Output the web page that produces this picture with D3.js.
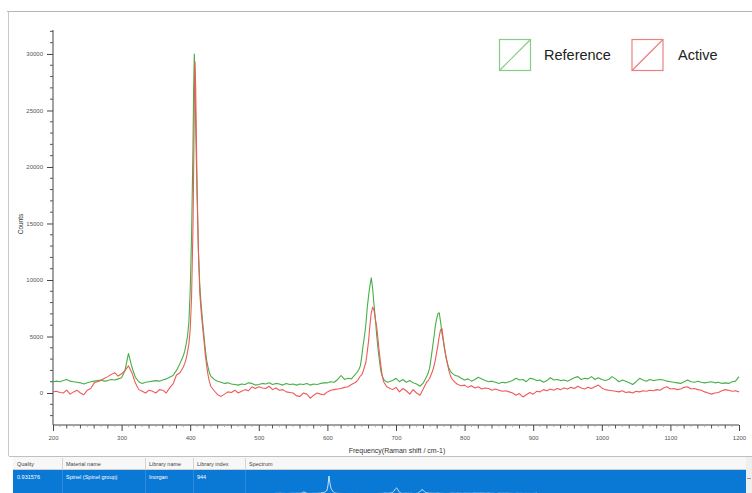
<!DOCTYPE html>
<html><head><meta charset="utf-8">
<script src="https://cdn.jsdelivr.net/npm/d3@7"></script>
<style>
html,body{margin:0;padding:0;background:#fff;}
svg{display:block;font-family:"Liberation Sans",Arial,sans-serif;}
</style></head>
<body><svg id="c" width="752" height="493"></svg>
<script>
// Raman shift (cm-1)
const shift = [
200,205,210,215,220,225,230,235,240,245,250,255,260,265,270,275,280,285,290,295,300,305,310,315,320,325,330,335,340,345,350,355,360,365,370,375,380,385,390,
392,394,396,398,400,402,404,405,406,407,408,410,412,414,416,418,420,422,424,426,428,430,
435,440,445,450,455,460,465,470,475,480,485,490,495,500,505,510,515,520,525,530,535,540,545,550,555,560,565,570,575,580,585,590,595,600,605,610,615,620,625,630,635,640,
642,644,646,648,650,652,654,656,658,660,662,664,666,668,670,672,674,676,678,680,682,684,686,688,690,
695,700,705,710,715,720,725,730,735,740,745,
747,749,751,753,755,757,759,761,763,765,767,769,771,773,775,777,779,781,783,785,787,789,
790,795,800,805,810,815,820,825,830,835,840,845,850,855,860,865,870,875,880,885,890,895,900,905,910,915,920,925,930,935,940,945,950,955,960,965,970,975,980,985,990,995,
1000,1005,1010,1015,1020,1025,1030,1035,1040,1045,1050,1055,1060,1065,1070,1075,1080,1085,1090,1095,1100,1105,1110,1115,1120,1125,1130,1135,1140,1145,1150,1155,1160,1165,1170,1175,1180,1185,1190,1195,1200
];
const referenceCounts = [
1000,1050,1000,1100,1200,1050,1000,950,900,800,900,1000,1050,1100,1150,1050,1100,1200,1150,1250,1350,2000,3500,2300,1400,1000,850,950,1000,1050,1100,1050,1150,1250,1400,1550,2000,2600,3300,
3700,4300,5000,6200,9000,14000,21500,27000,30000,27500,23500,17500,12500,9500,7800,6400,5100,3900,2900,2300,1800,1500,
1200,1050,950,850,900,800,750,700,800,750,900,850,700,750,850,800,900,750,850,800,700,850,750,800,700,800,750,850,700,800,750,850,900,900,1000,950,1200,1550,1200,1300,1250,1600,
1750,1900,2100,2400,3200,4200,5000,6000,7500,8600,9500,10200,9200,7800,6500,5000,3800,2800,1900,1500,1200,1100,1000,950,1000,
1100,1300,1000,1200,950,1100,900,800,600,900,1500,
1800,2200,3000,3900,4800,5800,6500,7000,7100,6300,5300,4600,3800,3100,2600,2200,2000,1800,1700,1600,1550,1500,
1500,1300,1150,1250,1050,1200,1400,1250,1100,1000,1050,950,850,950,900,1000,1100,1300,1150,1200,1000,1300,1250,1100,1150,950,1100,1350,1150,1200,1100,1150,1050,1200,1350,1450,1200,1300,1250,1450,1200,1350,
1200,1100,1200,1450,1250,1000,1150,1050,900,750,1000,1300,1150,1050,1200,1100,1150,1200,1150,1050,1000,950,900,850,1000,1150,1000,950,1050,950,900,950,1000,900,950,850,900,850,1000,1050,1450
];
const activeCounts = [
100,150,50,0,250,-100,100,250,0,-150,250,400,900,1000,1100,1300,1450,1650,1800,1500,1700,2000,2400,1800,900,300,150,0,250,150,0,300,250,0,450,800,1600,1800,2300,
2600,3000,3600,4300,5600,8500,14500,19500,25500,29300,27000,18500,12500,8800,7200,5900,4700,3400,2400,1600,1000,600,
200,-150,-300,-100,100,50,250,0,150,300,200,550,400,550,450,400,600,300,450,250,300,100,50,0,-250,-300,0,-100,-450,-200,0,-100,-150,100,250,300,350,400,500,550,750,900,
1000,1100,1300,1500,1600,1900,2300,2700,3600,4600,6000,7100,7600,7300,6500,5800,4600,3400,2400,1500,1000,800,600,500,450,
300,500,100,400,200,-100,300,0,-200,400,1000,
1100,1300,1600,1900,2300,2800,3500,4200,5000,5600,5700,4700,3900,3200,2600,2000,1600,1300,1150,1000,900,800,
750,650,700,500,650,450,550,350,450,400,250,350,250,150,200,100,0,-200,-50,-350,-150,50,-100,150,100,300,200,350,250,400,300,450,350,500,400,600,450,350,500,400,550,700,
450,300,250,200,150,100,200,50,100,0,150,100,200,150,250,200,300,250,450,550,350,400,300,350,500,550,350,400,300,250,100,0,-100,0,50,200,300,250,150,200,100
];
const xMajorTicks = [200,300,400,500,600,700,800,900,1000,1100,1200];
const yMajorTicks = [0,5000,10000,15000,20000,25000,30000];
const seriesNames = ["Reference","Active"];
const seriesColors = ["#45b045","#ee5a5a"];
const legendColors = ["#86cc86","#ee8080"];
const tableHeaders = ["Quality","Material name","Library name","Library index","Spectrum"];
const tableRow = ["0.931576","Spinel (Spinel group)","Inorgan","944"];

const svg = d3.select("#c");
const x = d3.scaleLinear().domain([200,1200]).range([53,739]);
const y = d3.scaleLinear().domain([-2830,32120]).range([425,30]);

// outer frame
svg.append("line").attr("x1",7).attr("x2",752).attr("y1",11.5).attr("y2",11.5).attr("stroke","#b4b4b4");
svg.append("line").attr("x1",8.5).attr("x2",8.5).attr("y1",11.5).attr("y2",456).attr("stroke","#c8c8c8");

// Y axis
const yAxis = d3.axisLeft(y).tickValues(yMajorTicks).tickSize(6).tickPadding(4).tickFormat(d3.format("d"));
const gy = svg.append("g").attr("transform","translate(53,0)").call(yAxis);
const yMinor = d3.range(-2000,32001,1000).filter(v=>v%5000!==0);
gy.selectAll(".minor").data(yMinor).enter().append("line").attr("class","minor")
  .attr("x1",-3).attr("x2",0).attr("y1",d=>y(d)).attr("y2",d=>y(d)).attr("stroke","#555");
gy.select(".domain").attr("d",`M0,${y(32120)}V${y(-2830)}`).attr("stroke","#444");
gy.selectAll(".tick line").attr("stroke","#444");
gy.selectAll("text").attr("font-size",6).attr("fill","#555");

// X axis
const xAxis = d3.axisBottom(x).tickValues(xMajorTicks).tickSize(6).tickPadding(5).tickFormat(d3.format("d"));
const gx = svg.append("g").attr("transform","translate(0,425)").call(xAxis);
const xMinor = d3.range(210,1200,10).filter(v=>v%100!==0);
gx.selectAll(".minor").data(xMinor).enter().append("line").attr("class","minor")
  .attr("y1",0).attr("y2",d=>d%20===0?3.5:2).attr("x1",d=>x(d)).attr("x2",d=>x(d))
  .attr("stroke",d=>d%20===0?"#555":"#aaa");
gx.select(".domain").attr("d",`M${x(200)},0H${x(1200)}`).attr("stroke","#444");
gx.selectAll(".tick line").attr("stroke","#444");
gx.selectAll("text").attr("font-size",6).attr("fill","#555");

// axis titles
svg.append("text").attr("transform","translate(23,224) rotate(-90)").attr("text-anchor","middle")
  .attr("font-size",6.5).attr("fill","#333").text("Counts");
svg.append("text").attr("x",397).attr("y",453).attr("text-anchor","middle")
  .attr("font-size",7).attr("fill","#333").text("Frequency(Raman shift / cm-1)");

// lines
const line = d3.line().x((d,i)=>x(shift[i])).y(d=>y(d));
svg.append("path").datum(referenceCounts).attr("d",line).attr("fill","none")
  .attr("stroke",seriesColors[0]).attr("stroke-width",1.1).attr("stroke-linejoin","round");
svg.append("path").datum(activeCounts).attr("d",line).attr("fill","none")
  .attr("stroke",seriesColors[1]).attr("stroke-width",1.1).attr("stroke-linejoin","round");

// legend
const legX = [499.5,632];
const legTX = [544,678];
seriesNames.forEach((n,i)=>{
  const g = svg.append("g");
  g.append("rect").attr("x",legX[i]).attr("y",39.5).attr("width",31).attr("height",31)
    .attr("fill","none").attr("stroke",legendColors[i]).attr("stroke-width",1.2);
  g.append("line").attr("x1",legX[i]).attr("y1",70.5).attr("x2",legX[i]+31).attr("y2",39.5)
    .attr("stroke",legendColors[i]).attr("stroke-width",1.2);
  g.append("text").attr("x",legTX[i]).attr("y",60).attr("font-size",14.5).attr("fill","#222")
    .attr("font-family","'Liberation Sans',Arial,sans-serif").text(n);
});

// table
svg.append("line").attr("x1",9).attr("x2",752).attr("y1",456.5).attr("y2",456.5).attr("stroke","#c0c0c0");
svg.append("rect").attr("x",13).attr("y",457).attr("width",733).attr("height",13).attr("fill","#f7f7f7");
svg.append("line").attr("x1",13).attr("x2",746).attr("y1",469.5).attr("y2",469.5).attr("stroke","#d0d0d0");
const colX = [13,62,145,193,245];
tableHeaders.forEach((h,i)=>{
  svg.append("text").attr("x",colX[i]+4).attr("y",466).attr("font-size",5.5).attr("fill","#444").text(h);
  if(i>0) svg.append("line").attr("x1",colX[i]+0.5).attr("x2",colX[i]+0.5).attr("y1",458).attr("y2",470).attr("stroke","#d4d4d4");
});
svg.append("rect").attr("x",13).attr("y",470).attr("width",733).attr("height",23).attr("fill","#0a79d6");
colX.slice(1).forEach(cx=>{
  svg.append("line").attr("x1",cx+0.5).attr("x2",cx+0.5).attr("y1",470).attr("y2",493).attr("stroke","#2e8bdc");
});
tableRow.forEach((t,i)=>{
  svg.append("text").attr("x",colX[i]+4).attr("y",479).attr("font-size",5.5).attr("fill","#ffffff").text(t);
});
svg.append("rect").attr("x",746).attr("y",457).attr("width",6).attr("height",36).attr("fill","#efefef");
svg.append("line").attr("x1",747).attr("x2",751).attr("y1",478.5).attr("y2",478.5).attr("stroke","#999");

// mini spectrum thumbnail
const mx = d3.scaleLinear().domain([200,1200]).range([275,537]);
const my = d3.scaleLinear().domain([0,30000]).range([494,476]);
svg.append("defs").append("clipPath").attr("id","clipRow").append("rect")
  .attr("x",246).attr("y",470).attr("width",499).attr("height",23);
const mline = d3.line().x((d,i)=>mx(shift[i])).y(d=>my(Math.max(d,0)));
svg.append("path").datum(referenceCounts).attr("d",mline).attr("fill","none")
  .attr("stroke","#ffffff").attr("stroke-width",0.8).attr("clip-path","url(#clipRow)");
</script></body></html>
